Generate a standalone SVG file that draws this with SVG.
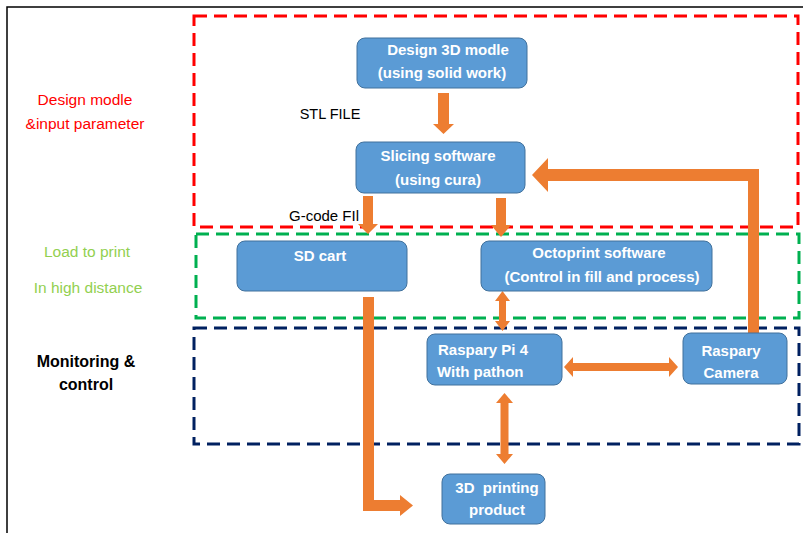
<svg xmlns="http://www.w3.org/2000/svg" width="803" height="533" viewBox="0 0 803 533">
<style>
.frame{fill:none;stroke:#000;stroke-width:1.5}
.zone{fill:none;stroke-width:3;stroke-dasharray:13 7}
.node rect{fill:#5B9BD5;stroke:#41719C;stroke-width:1}
.node text{fill:#fff;font-family:"Liberation Sans",Arial,sans-serif;font-weight:bold;font-size:15px;white-space:pre}
.lbl{font-family:"Liberation Sans",Arial,sans-serif;font-size:15.5px}
.arr{fill:#ED7D31}
</style>
<rect width="803" height="533" fill="#fff"/>
<path class="frame" d="M7,533 V7 H803"/>

<g id="zones">
<rect class="zone" x="194" y="16" width="604" height="211" stroke="#FF0000"/>
<rect class="zone" x="196" y="234" width="603" height="84" stroke="#00B050"/>
<rect class="zone" x="194" y="328" width="605" height="116" stroke="#002060"/>
</g>

<g id="side-labels" class="lbl">
<text x="85" y="105" text-anchor="middle" fill="#FF0000">Design modle</text>
<text x="85" y="129" text-anchor="middle" fill="#FF0000">&amp;input parameter</text>
<text x="87" y="257" text-anchor="middle" fill="#92D050">Load to print</text>
<text x="88" y="293" text-anchor="middle" fill="#92D050">In high distance</text>
<text x="86" y="367" text-anchor="middle" fill="#000" font-weight="bold" font-size="16px">Monitoring &amp;</text>
<text x="86" y="390" text-anchor="middle" fill="#000" font-weight="bold" font-size="16px">control</text>
<text x="330" y="119" text-anchor="middle" fill="#000" font-size="14.5px">STL FILE</text>
<text x="289" y="221" fill="#000" font-size="15px">G-code FIl</text>
</g>

<g id="connectors">
<polygon class="arr" points="438,93 449,93 449,124 454,124 443.5,134 433,124 438,124"/>
<polygon class="arr" points="363,196 373,196 373,224 378,224 368,234 358,224 363,224"/>
<polygon class="arr" points="496,198 506,198 506,225 511,225 501,237 491,225 496,225"/>
<polygon class="arr" points="748,333 748,181 548,181 548,192 532,175 548,158 548,169 759,169 759,333"/>
<polygon class="arr" points="363,297 374,297 374,500 400,500 400,495 413,505.5 400,516 400,511 363,511"/>
<polygon class="arr" points="502.5,291 510,301 506,301 506,321 510,321 502.5,331 495,321 499,321 499,301 495,301"/>
<polygon class="arr" points="564,367 573,357 573,363 669,363 669,357 678,367 669,377 669,371 573,371 573,377"/>
<polygon class="arr" points="504.5,393 513,403 508.5,403 508.5,454 513,454 504.5,464 496,454 500.5,454 500.5,403 496,403"/>
</g>

<g id="design" class="node">
<rect x="357" y="38" width="170" height="50" rx="8"/>
<text x="448" y="55" text-anchor="middle">Design 3D modle</text>
<text x="442" y="78" text-anchor="middle">(using solid work)</text>
</g>
<g id="slicing" class="node">
<rect x="356" y="142" width="169" height="51" rx="8"/>
<text x="438" y="161" text-anchor="middle">Slicing software</text>
<text x="438" y="185" text-anchor="middle">(using cura)</text>
</g>
<g id="sdcart" class="node">
<rect x="237" y="241" width="170" height="50" rx="8"/>
<text x="320" y="261" text-anchor="middle">SD cart</text>
</g>
<g id="octoprint" class="node">
<rect x="481" y="241" width="231" height="50" rx="8"/>
<text x="599" y="258" text-anchor="middle">Octoprint software</text>
<text x="602" y="282" text-anchor="middle">(Control in fill and process)</text>
</g>
<g id="raspi" class="node">
<rect x="427" y="334" width="135" height="51" rx="8"/>
<text x="438" y="355">Raspary Pi 4</text>
<text x="437" y="377">With pathon</text>
</g>
<g id="camera" class="node">
<rect x="683" y="333" width="104" height="51" rx="8"/>
<text x="731" y="356" text-anchor="middle">Raspary</text>
<text x="731" y="378" text-anchor="middle">Camera</text>
</g>
<g id="product" class="node">
<rect x="442" y="474" width="103" height="50" rx="8"/>
<text x="497" y="493" text-anchor="middle">3D  printing</text>
<text x="497" y="515" text-anchor="middle">product</text>
</g>
</svg>
